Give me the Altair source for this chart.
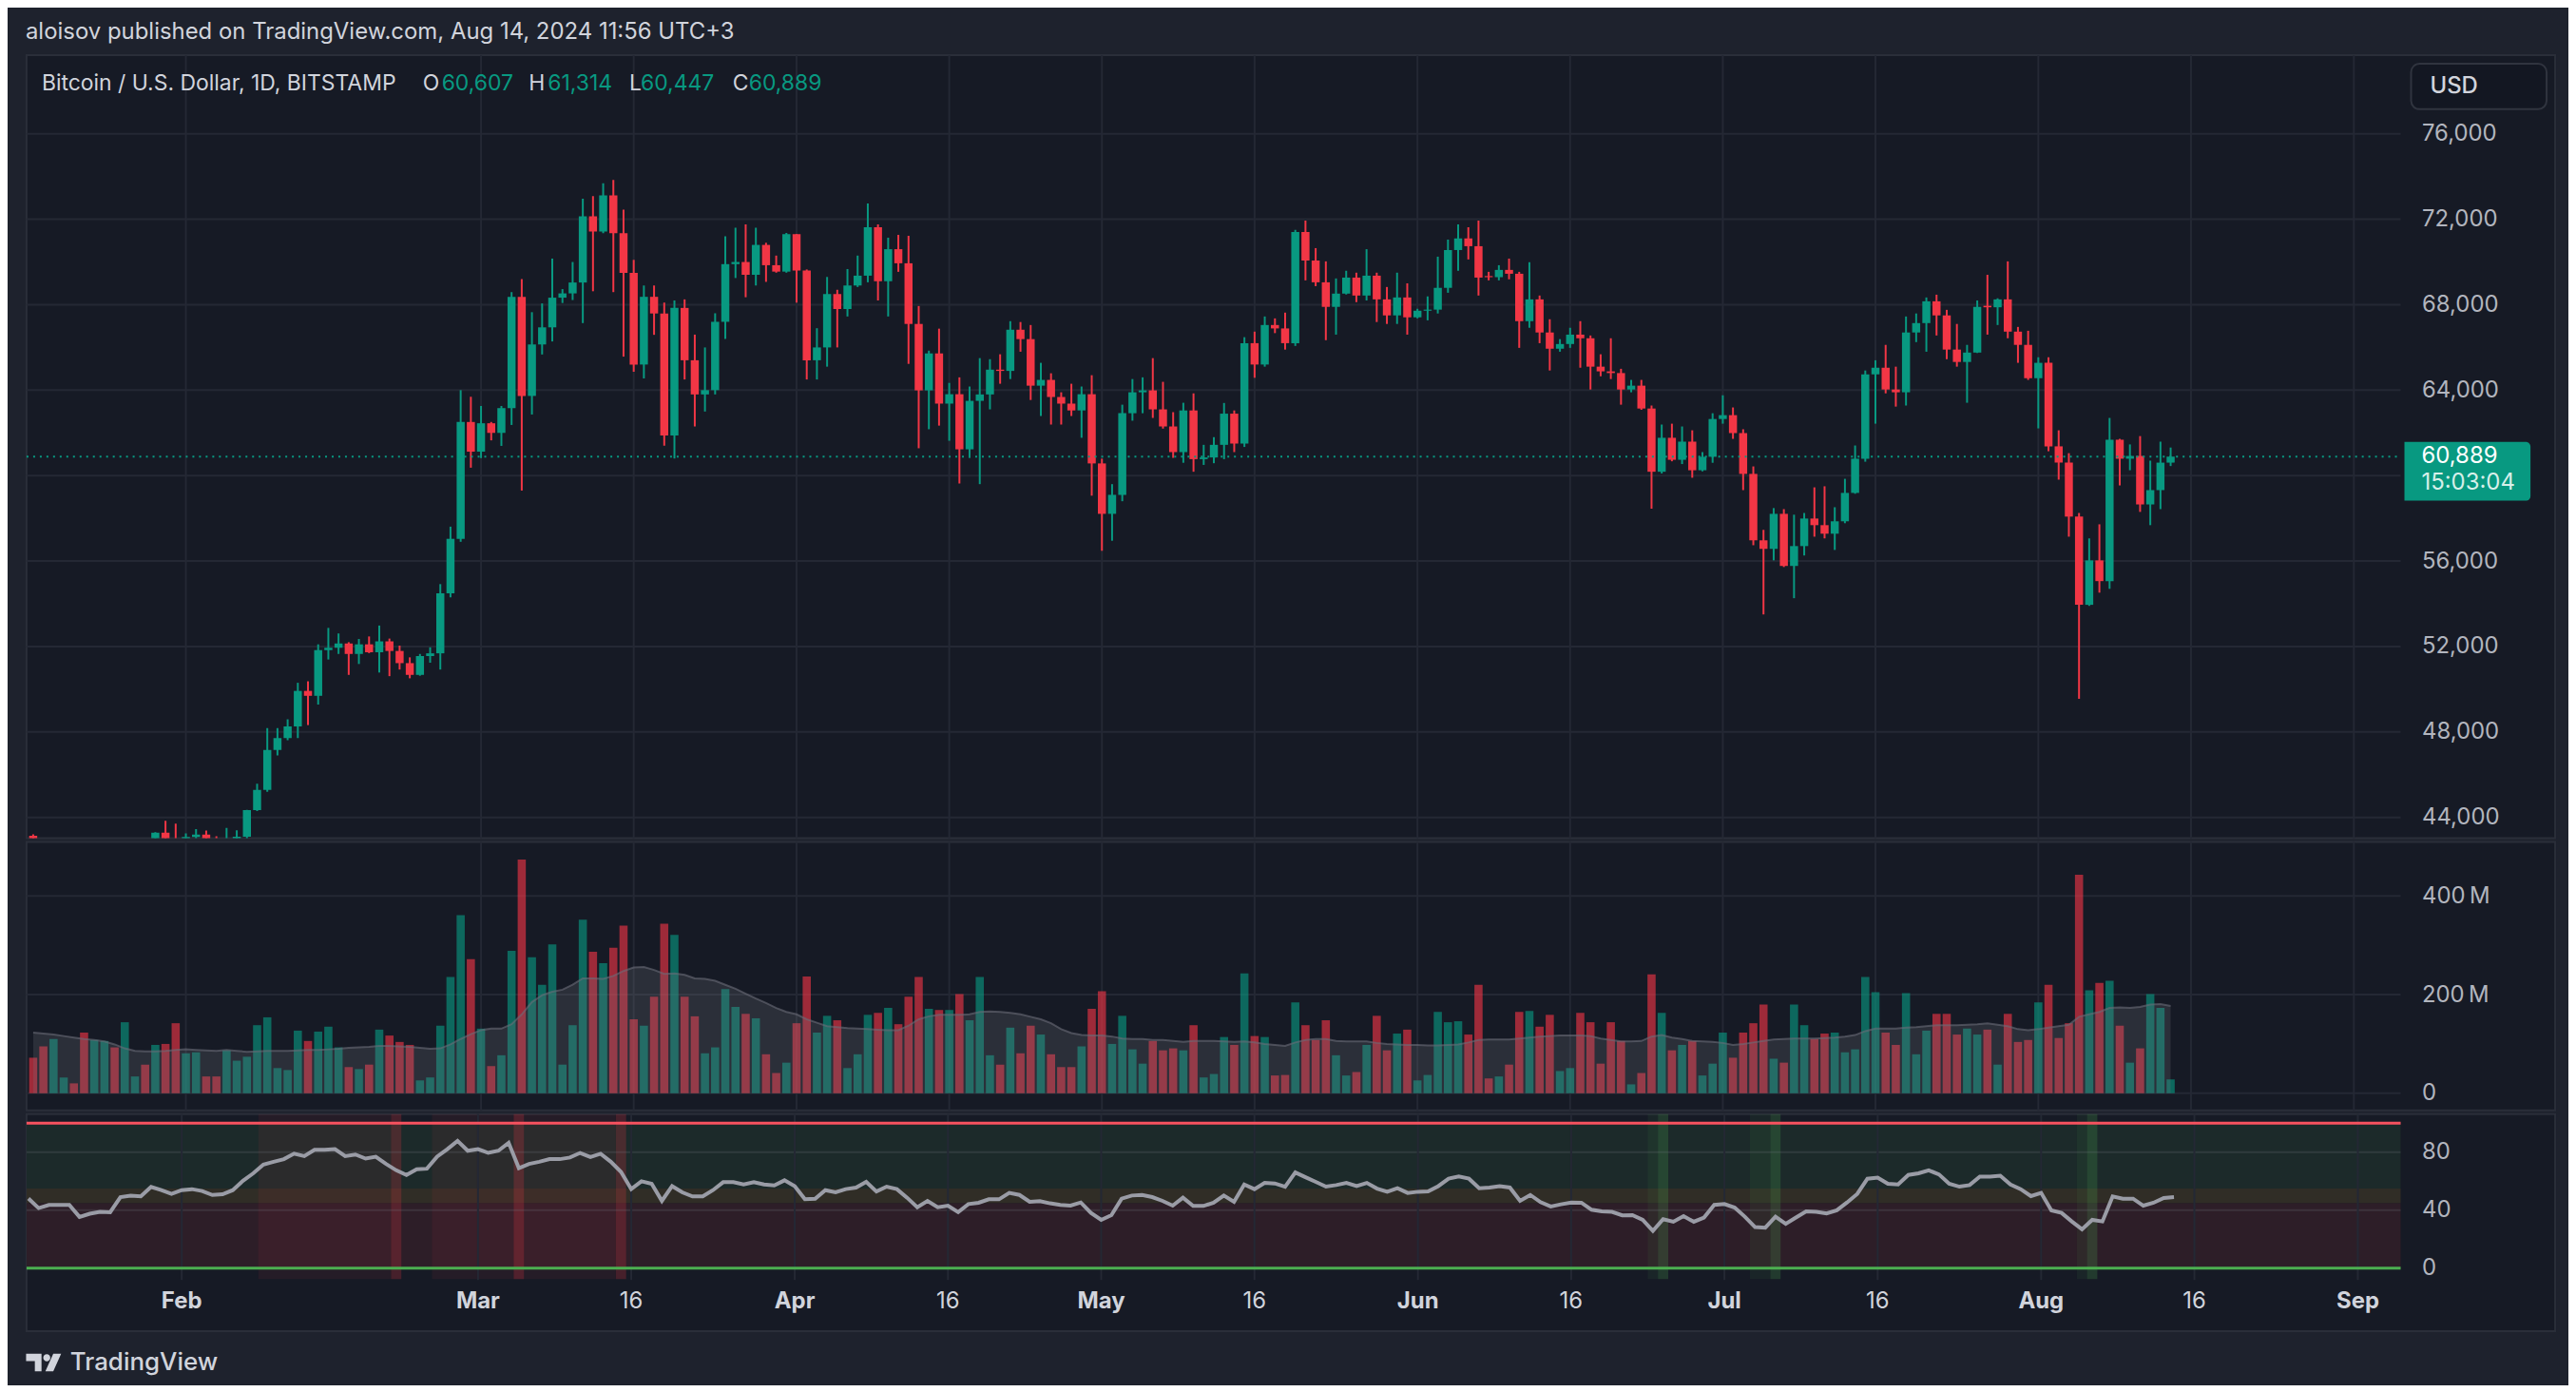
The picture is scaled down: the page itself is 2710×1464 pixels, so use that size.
import altair as alt
import pandas as pd

# ---------------- values ----------------
FIRST_DAY = "2024-01-17"

opens = [43140, 42740, 41270, 41620, 41660, 41580, 39510, 39850, 40080, 39930,
         41800, 42120, 42030, 43280, 42940, 42580, 43080, 43190, 43000, 42580,
         42690, 43090, 44340, 45290, 47160, 47710, 48260, 49920, 49690, 51830,
         51940, 52140, 51650, 52100, 51730, 52240, 51790, 51220, 50670, 51550,
         51680, 54490, 57040, 62510, 61120, 62450, 62000, 63160, 68370, 63730,
         66140, 66940, 68330, 68530, 69040, 72140, 71430, 73120, 71350, 69490,
         65200, 68370, 67590, 61880, 67850, 65400, 63800, 64000, 67200, 69900,
         70000, 69400, 70800, 69850, 69550, 71300, 69600, 65400, 66000, 68500,
         67800, 68900, 69360, 71630, 69100, 70600, 69940, 67100, 63990, 65720,
         63370, 63810, 61230, 63500, 63800, 64960, 64900, 66830, 66390, 64210,
         64480, 63680, 63370, 63050, 63810, 60570, 58210, 59100, 62920, 63900,
         63990, 63100, 62300, 61100, 63050, 60770, 60850, 61440, 62900, 61500,
         66200, 65200, 67050, 66890, 66200, 71410, 70070, 69050, 67900, 68520,
         69270, 68430, 69360, 68250, 67500, 68340, 67410, 67720, 67770, 68790,
         70560, 71100, 70740, 69340, 69290, 69630, 69450, 67230, 68250, 66700,
         65940, 66160, 66600, 66430, 65100, 64880, 64800, 64030, 64210, 63140,
         60180, 61770, 60740, 61590, 60250, 60880, 62650, 62830, 61990, 60080,
         56970, 56570, 58210, 55770, 56700, 57990, 57680, 57280, 57860, 59190,
         60790, 64740, 65050, 64030, 63900, 66700, 67140, 68160, 67500, 65900,
         65320, 65760, 67950, 67880, 68250, 66740, 66120, 64560, 65280, 61370,
         60610, 58080, 53950, 56030, 55060, 61680, 60790, 60920, 58650, 59320,
         60607]
highs = [43200, 42930, 42190, 41820, 41870, 41680, 40130, 40500, 40280, 42200,
         42200, 42840, 43300, 43840, 43700, 43250, 43450, 43380, 43120, 43500,
         43390, 44350, 45570, 48180, 48180, 48590, 50300, 50370, 52100, 52870,
         52610, 52200, 52350, 52470, 52980, 52370, 52040, 51490, 51650, 51960,
         54920, 57610, 64000, 63690, 63260, 62510, 63260, 68590, 69200, 67650,
         68060, 70160, 68730, 70000, 72960, 73080, 73690, 73840, 72450, 70100,
         68900, 68900, 68100, 68200, 68250, 66600, 66000, 67600, 71200, 71600,
         71760, 71600, 70900, 70300, 71360, 71300, 69650, 66900, 69300, 68700,
         69670, 70300, 72740, 71760, 71140, 71270, 71230, 67940, 65850, 66880,
         64340, 64600, 64170, 65500, 65450, 65680, 67230, 67190, 67050, 65280,
         64790, 63900, 64300, 64170, 64700, 60790, 59600, 63320, 64520, 64600,
         65500, 64390, 62970, 63410, 63850, 61440, 61800, 63400, 63050, 66480,
         66740, 67450, 67360, 67630, 71500, 71940, 70650, 70030, 69230, 69590,
         69500, 70600, 69500, 68830, 69500, 69000, 67810, 68390, 70250, 71050,
         71760, 71630, 71940, 69540, 69850, 70160, 69540, 69990, 68430, 67320,
         66390, 66920, 67230, 66560, 65680, 66430, 65000, 64480, 64480, 63280,
         62390, 62430, 62300, 62120, 61100, 62920, 63760, 63190, 62170, 60430,
         57460, 58480, 58430, 58170, 58250, 59450, 59500, 58520, 59850, 61410,
         64920, 65400, 66120, 65100, 67450, 67590, 68340, 68470, 67760, 67100,
         66120, 68200, 69400, 68300, 70030, 66960, 66780, 65540, 65540, 62120,
         61050, 58250, 57060, 57720, 62700, 61720, 61460, 61850, 60700, 61590,
         61314]
lows = [42200, 40680, 40280, 41420, 41500, 39450, 38500, 39480, 39500, 39820,
        41400, 41620, 41800, 42680, 42300, 41880, 42580, 42890, 42200, 42500,
        42580, 42780, 44300, 45200, 46900, 47610, 47710, 48320, 49280, 51390,
        51650, 50670, 51180, 51690, 50780, 50610, 50920, 50510, 50630, 51240,
        50920, 54300, 56900, 60370, 60820, 61650, 61390, 62370, 59300, 62860,
        65670, 66280, 68080, 68220, 67140, 68630, 71350, 68590, 65570, 64860,
        64550, 66590, 61400, 60800, 64500, 62300, 63000, 63800, 66400, 69250,
        68350, 68900, 69070, 69500, 69500, 68100, 64500, 64500, 65100, 66000,
        67450, 68830, 69050, 68200, 67450, 69540, 65230, 61280, 62170, 62340,
        61630, 59630, 60830, 59600, 63100, 64300, 64520, 65800, 63540, 62790,
        62390, 62390, 62790, 61770, 59060, 56480, 56950, 58800, 62570, 62920,
        62700, 62200, 60830, 60600, 60180, 60500, 60580, 60770, 61100, 61340,
        64580, 65100, 66670, 65900, 66070, 69140, 68870, 66340, 66600, 68480,
        68120, 68200, 67190, 67100, 67100, 66600, 67360, 67270, 67590, 68560,
        69590, 70120, 68430, 69140, 69140, 69190, 65980, 66920, 66200, 64920,
        65800, 65980, 65050, 64030, 64650, 64520, 63320, 63900, 63080, 58450,
        60100, 60670, 60540, 59900, 60200, 60600, 62430, 61720, 59320, 56740,
        53500, 56030, 55720, 54260, 56260, 57140, 57060, 56520, 57770, 59150,
        60650, 62430, 63850, 63230, 63280, 66250, 65800, 66560, 65450, 65100,
        63410, 65740, 66600, 67050, 66430, 65280, 64480, 62210, 61140, 59810,
        57140, 49550, 53900, 54520, 54700, 59540, 60250, 58300, 57680, 58430,
        60447]
closes = [42740, 41270, 41620, 41660, 41580, 39510, 39850, 40080, 39930, 41800,
          42120, 42030, 43280, 42940, 42580, 43080, 43190, 43000, 42580, 42690,
          43090, 44340, 45290, 47160, 47710, 48260, 49920, 49690, 51830, 51940,
          52140, 51650, 52100, 51730, 52240, 51790, 51220, 50670, 51550, 51680,
          54490, 57040, 62510, 61120, 62450, 62000, 63160, 68370, 63730, 66140,
          66940, 68330, 68530, 69040, 72140, 71430, 73120, 71350, 69490, 65200,
          68370, 67590, 61880, 67850, 65400, 63800, 64000, 67200, 69900, 70000,
          69400, 70800, 69850, 69550, 71300, 69600, 65400, 66000, 68500, 67800,
          68900, 69360, 71630, 69100, 70600, 69940, 67100, 63990, 65720, 63370,
          63810, 61230, 63500, 63800, 64960, 64900, 66830, 66390, 64210, 64480,
          63680, 63370, 63050, 63810, 60570, 58210, 59100, 62920, 63900, 63990,
          63100, 62300, 61100, 63050, 60770, 60850, 61440, 62900, 61500, 66200,
          65200, 67050, 66890, 66200, 71410, 70070, 69050, 67900, 68520, 69270,
          68430, 69360, 68250, 67500, 68340, 67410, 67720, 67770, 68790, 70560,
          71100, 70740, 69270, 69290, 69630, 69450, 67230, 68250, 66700, 65940,
          66160, 66600, 66430, 65100, 64880, 64800, 64030, 64210, 63140, 60180,
          61770, 60740, 61590, 60250, 60880, 62650, 62830, 61990, 60080, 56970,
          56570, 58210, 55770, 56700, 57990, 57680, 57280, 57860, 59190, 60790,
          64740, 65050, 64030, 63900, 66700, 67140, 68160, 67500, 65900, 65320,
          65760, 67900, 67880, 68250, 66740, 66120, 64560, 65280, 61370, 60610,
          58080, 53950, 56030, 55060, 61680, 60790, 60920, 58650, 59320, 60607,
          60889]

volume_m = [72, 95, 110, 32, 20, 123, 108, 106, 93, 144,
            34, 58, 98, 100, 142, 81, 83, 34, 34, 87,
            66, 74, 138, 154, 51, 47, 127, 106, 125, 135,
            93, 53, 49, 58, 129, 117, 104, 98, 26, 32,
            137, 236, 361, 272, 131, 55, 77, 289, 474, 276,
            220, 302, 58, 138, 352, 287, 264, 295, 340, 150,
            137, 196, 344, 321, 196, 156, 81, 93, 211, 175,
            161, 152, 79, 41, 62, 142, 237, 123, 157, 148,
            51, 79, 159, 163, 173, 140, 196, 236, 171, 169,
            169, 201, 148, 236, 77, 58, 133, 81, 137, 119,
            79, 53, 53, 95, 171, 207, 100, 157, 89, 60,
            106, 87, 91, 87, 138, 32, 39, 114, 98, 243,
            116, 114, 36, 37, 184, 138, 108, 148, 77, 36,
            43, 98, 157, 87, 121, 129, 26, 37, 165, 144,
            146, 119, 220, 30, 34, 58, 165, 167, 135, 159,
            45, 51, 163, 144, 60, 144, 106, 18, 41, 241,
            163, 87, 98, 106, 36, 60, 123, 72, 123, 142,
            180, 70, 62, 180, 138, 110, 121, 123, 83, 89,
            236, 205, 123, 98, 203, 79, 127, 161, 161, 119,
            131, 119, 129, 58, 161, 104, 108, 184, 220, 112,
            142, 443, 209, 224, 228, 137, 62, 91, 201, 173,
            28]
volume_ma_m = [123, 121, 119, 116, 113, 110, 108, 105, 99, 91,
               86, 85, 85, 86, 88, 89, 88, 87, 86, 88,
               86, 84, 85, 86, 86, 86, 87, 88, 88, 89,
               90, 92, 93, 94, 96, 96, 95, 94, 92, 90,
               91, 99, 110, 120, 128, 131, 131, 140, 160, 185,
               199, 206, 210, 220, 233, 233, 232, 238, 248, 255,
               256, 250, 242, 243, 240, 233, 232, 228, 220, 212,
               202, 192, 183, 173, 165, 160, 150, 143, 136, 134,
               132, 131, 130, 129, 128, 128, 137, 150, 156, 159,
               159, 159, 160, 165, 166, 165, 163, 160, 155, 150,
               142, 130, 122, 118, 117, 117, 115, 111, 110, 110,
               108, 108, 106, 104, 106, 106, 106, 105, 104, 105,
               103, 100, 98, 96, 103, 108, 110, 110, 106, 105,
               105, 105, 102, 100, 99, 98, 98, 97, 97, 98,
               99, 103, 108, 109, 109, 109, 111, 113, 115, 116,
               117, 117, 117, 116, 111, 108, 105, 105, 106, 115,
               118, 113, 110, 106, 105, 104, 102, 98, 100, 103,
               106, 109, 110, 111, 111, 111, 112, 113, 115, 118,
               126, 131, 131, 131, 133, 134, 136, 138, 138, 138,
               139, 140, 142, 139, 136, 130, 128, 130, 133, 136,
               139, 155, 160, 165, 173, 174, 173, 175, 180, 181,
               177]
rsi_values = [48, 41.4, 43.6, 43.6, 43.6, 35.3, 37.5, 38.8, 38.6, 49,
              50, 49.5, 56, 53.8, 51.2, 53.8, 54.5, 53.2, 50.5, 51,
              53.8, 60.3, 65.4, 71.5, 73.4, 75.2, 79, 77.3, 81.7, 81.7,
              82.1, 77.3, 78.4, 75.6, 76.9, 71.9, 67.5, 64.3, 68.2, 68.6,
              76.9, 82.1, 87.8, 81, 82.1, 79.5, 81, 86.5, 69, 71.9,
              73.4, 75.2, 75.2, 76.3, 79.5, 76.7, 78.9, 73.4, 66.4, 54.5,
              59.9, 58.2, 46.4, 56.6, 52.3, 49.5, 49.5, 53.8, 59.3, 59.3,
              57.7, 59.3, 57.7, 57.1, 60.6, 56.6, 47.5, 47.9, 53.8, 52.3,
              54.5, 55.6, 59.5, 52.9, 56.2, 54.5, 48.6, 42, 46.4, 42,
              43.1, 38.6, 44.2, 45.1, 47.5, 47.5, 51.9, 50.5, 45.8, 46.2,
              44.7, 43.6, 43.1, 45.3, 38.1, 33.3, 36.6, 47.9, 50.1, 50.5,
              49, 46.4, 43.1, 48.6, 42.9, 42.9, 45.1, 50.1, 45.8, 57.7,
              54.5, 58.8, 58.4, 56.2, 66, 62.7, 59.5, 56.2, 57.3, 58.8,
              56.6, 58.8, 54.9, 52.7, 55.1, 51.9, 52.7, 52.9, 56.6, 61.7,
              63.2, 61.7, 55.1, 55.6, 56.6, 55.6, 46.4, 50.5, 45.5, 42.5,
              44, 45.3, 45.1, 40.3, 39.2, 38.8, 36.4, 36.6, 33.3, 25.7,
              33.8, 32, 35.9, 32, 34.9, 43.6, 44.2, 41.8, 35.5, 28.3,
              27.9, 35.5, 30.5, 34.9, 39.2, 38.8, 37.7, 39.9, 45.3, 51.2,
              61.7, 62.5, 58.2, 57.7, 64.3, 65.4, 67.5, 64.7, 58.2, 56.2,
              57.3, 63.2, 63.2, 63.8, 57.7, 54.5, 49.7, 51.9, 39.9, 38.1,
              32.2, 26.8, 33.3, 32.2, 49.5, 47.9, 47.9, 43.1, 45.1, 48.4,
              49]

price_grid = [44000, 48000, 52000, 56000, 60000, 64000, 68000, 72000, 76000]
price_labels = [44000, 48000, 52000, 56000, 64000, 68000, 72000, 76000]  # 60,000 hidden by price tag
volume_ticks = [0, 200, 400]
rsi_ticks = [0, 40, 80]
rsi_zone_lo = [0, 45, 55]
rsi_zone_hi = [45, 55, 100]
rsi_limits = [100, 0]

time_dates = ["2024-02-01", "2024-03-01", "2024-03-16", "2024-04-01", "2024-04-16",
              "2024-05-01", "2024-05-16", "2024-06-01", "2024-06-16", "2024-07-01",
              "2024-07-16", "2024-08-01", "2024-08-16", "2024-09-01"]
time_labels = ["Feb", "Mar", "16", "Apr", "16", "May", "16", "Jun", "16", "Jul",
               "16", "Aug", "16", "Sep"]

overbought_first = ["2024-02-09", "2024-02-26"]
overbought_last = ["2024-02-21", "2024-03-14"]
oversold_first = ["2024-06-24", "2024-07-04", "2024-08-05"]
oversold_last = ["2024-06-24", "2024-07-05", "2024-08-05"]
sell_days = ["2024-02-22", "2024-03-05", "2024-03-15"]
buy_days = ["2024-06-25", "2024-07-06", "2024-08-06"]

header = "aloisov published on TradingView.com, Aug 14, 2024 11:56 UTC+3"
symbol = "Bitcoin / U.S. Dollar, 1D, BITSTAMP"
countdown = "15:03:04"

# ---------------- styling / layout ----------------
PANE = "#161a25"
CHROME = "#1e222d"
GRID = "#242834"
UP = "#089981"
DOWN = "#f23645"
TEXT = "#d1d4dc"
AXIS_TXT = "#b2b5be"
FONT = "Inter"

W = 2668          # pane width incl. price-scale column
PLOT_W = 2505     # drawing area width
H_PRICE, H_VOL, H_RSI = 826, 283, 229
PX_DAY = 10.78

dates = pd.date_range(FIRST_DAY, periods=len(closes), freq="D").strftime("%Y-%m-%d")
df = pd.DataFrame({"date": dates, "open": opens, "high": highs, "low": lows,
                   "close": closes, "vol": volume_m, "ma": volume_ma_m, "rsi": rsi_values})
df["dir"] = ["up" if c >= o else "down" for o, c in zip(opens, closes)]

t_start = pd.Timestamp(FIRST_DAY, tz="UTC") - pd.Timedelta(days=2 / PX_DAY)
t_end = t_start + pd.Timedelta(days=W / PX_DAY)
xsc = alt.Scale(type="utc", domain=[int(t_start.value // 10**6), int(t_end.value // 10**6)])
X = alt.X("date:T", scale=xsc, axis=None)
COLOR = alt.Color("dir:N", scale=alt.Scale(domain=["up", "down"], range=[UP, DOWN]), legend=None)

vlines = pd.DataFrame({"date": time_dates, "label": time_labels})


def right_axis(values, expr):
    return alt.Axis(orient="right", values=values, labelExpr=expr, grid=False, ticks=False,
                    domain=False, labelFont=FONT, labelFontSize=24, labelColor=AXIS_TXT,
                    labelPadding=0, offset=-141, title=None, labelAlign="left",
                    labelBaseline="middle", labelOverlap=False, labelFlush=False)


def txt(**kw):
    base = dict(font=FONT, fontSize=24, align="left", baseline="middle", color=TEXT)
    base.update(kw)
    return base


# ---------------- price pane ----------------
ysc_p = alt.Scale(domain=[43024, 79684], nice=False, zero=False)
ax_p = right_axis(price_labels, "format(datum.value, ',')")


def YP(field):
    return alt.Y(field, scale=ysc_p, axis=ax_p, title=None)


grid_p = alt.Chart(pd.DataFrame({"price": price_grid})).mark_rule(color=GRID, strokeWidth=2).encode(
    y=YP("price:Q"), x=alt.value(0), x2=alt.value(PLOT_W))
vgrid_p = alt.Chart(vlines).mark_rule(color=GRID, strokeWidth=2).encode(x=X)
wicks = alt.Chart(df).mark_rule(strokeWidth=2, clip=True).encode(
    x=X, y=YP("low:Q"), y2="high:Q", color=COLOR)
bodies = alt.Chart(df).mark_bar(size=8.5, clip=True).encode(
    x=X, y=YP("open:Q"), y2="close:Q", color=COLOR)

last_df = pd.DataFrame({"price": [closes[-1]], "label": [f"{closes[-1]:,}"], "timer": [countdown]})
last_line = alt.Chart(last_df).mark_rule(color=UP, strokeWidth=2, strokeDash=[2, 5]).encode(
    y=YP("price:Q"), x=alt.value(0), x2=alt.value(PLOT_W))
last_box = alt.Chart(last_df).mark_rect(color=UP, cornerRadiusTopRight=5, cornerRadiusBottomRight=5).encode(
    x=alt.value(2509), x2=alt.value(2642), y=alt.value(408), y2=alt.value(470))
last_txt = alt.Chart(last_df).mark_text(**txt(color="#ffffff")).encode(
    x=alt.value(2527), y=YP("price:Q"), text="label:N")
timer_txt = alt.Chart(last_df).mark_text(**txt(color="#d6efe9", dy=28)).encode(
    x=alt.value(2527), y=YP("price:Q"), text="timer:N")

one = pd.DataFrame({"t": ["USD"]})
usd_box = alt.Chart(one).mark_rect(fill="#131722", stroke="#30343f", strokeWidth=2, cornerRadius=9).encode(
    x=alt.value(2516), x2=alt.value(2659), y=alt.value(9), y2=alt.value(57))
usd_txt = alt.Chart(one).mark_text(**txt(fontWeight=500)).encode(
    x=alt.value(2536), y=alt.value(33), text="t:N")

head_txt = alt.Chart(pd.DataFrame({"t": [header]})).mark_text(**txt()).encode(
    x=alt.value(-1), y=alt.value(-24), text="t:N")

legend_texts = [symbol, "O", f"{opens[-1]:,}", "H", f"{highs[-1]:,}", "L", f"{lows[-1]:,}",
                "C", f"{closes[-1]:,}"]
legend_colors = [TEXT, TEXT, UP, TEXT, UP, TEXT, UP, TEXT, UP]
legend_x = [16, 418, 438, 530, 550, 636, 648, 745, 762]
legend_layers = [
    alt.Chart(pd.DataFrame({"t": [t]})).mark_text(**txt(color=c, fontSize=23)).encode(
        x=alt.value(px), y=alt.value(30), text="t:N")
    for t, c, px in zip(legend_texts, legend_colors, legend_x)
]

price_chart = alt.layer(grid_p, vgrid_p, wicks, bodies, last_line, last_box, last_txt, timer_txt,
                        usd_box, usd_txt, head_txt, *legend_layers).properties(width=W, height=H_PRICE)

# ---------------- volume pane ----------------
ysc_v = alt.Scale(domain=[-34.6, 509.6], nice=False, zero=False)
ax_v = right_axis(volume_ticks, "datum.value == 0 ? '0' : datum.value + '\u2009M'")


def YV(field):
    return alt.Y(field, scale=ysc_v, axis=ax_v, title=None)


grid_v = alt.Chart(pd.DataFrame({"v": volume_ticks})).mark_rule(color=GRID, strokeWidth=2).encode(
    y=YV("v:Q"), x=alt.value(0), x2=alt.value(PLOT_W))
vgrid_v = alt.Chart(vlines).mark_rule(color=GRID, strokeWidth=2).encode(x=X)
vol_bars = alt.Chart(df).mark_bar(size=8.6, opacity=0.62).encode(
    x=X, y=YV("vol:Q"), color=COLOR)
ma_area = alt.Chart(df).mark_area(color="#787b86", opacity=0.22).encode(
    x=X, y=YV("ma:Q"))
ma_line = alt.Chart(df).mark_line(color="#6a6d78", strokeWidth=2, opacity=0.6).encode(
    x=X, y=YV("ma:Q"))
vol_chart = alt.layer(grid_v, vgrid_v, vol_bars, ma_area, ma_line).properties(width=W, height=H_VOL)

# ---------------- RSI pane ----------------
ysc_r = alt.Scale(domain=[-43.5, 106.3], nice=False, zero=False)
ax_r = right_axis(rsi_ticks, "datum.value + ''")


def YR(field):
    return alt.Y(field, scale=ysc_r, axis=ax_r, title=None)


zones_df = pd.DataFrame({"lo": rsi_zone_lo, "hi": rsi_zone_hi,
                         "fill": ["#2d1e28", "#302d26", "#1c2a2a"]})
zones = alt.Chart(zones_df).mark_rect().encode(
    y=YR("lo:Q"), y2="hi:Q", x=alt.value(0), x2=alt.value(PLOT_W),
    fill=alt.Fill("fill:N", scale=None))


def span_df(first, last, fill):
    return pd.DataFrame({
        "b0": [(pd.Timestamp(f) - pd.Timedelta(hours=12)).strftime("%Y-%m-%dT%H:%M:%SZ") for f in first],
        "b1": [(pd.Timestamp(l) + pd.Timedelta(hours=12)).strftime("%Y-%m-%dT%H:%M:%SZ") for l in last],
        "fill": fill})


bands_df = pd.concat([
    span_df(overbought_first, overbought_last, "rgba(242,54,69,0.07)"),
    span_df(oversold_first, oversold_last, "rgba(76,175,80,0.08)"),
    span_df(sell_days, sell_days, "rgba(242,54,69,0.22)"),
    span_df(buy_days, buy_days, "rgba(76,175,80,0.22)"),
], ignore_index=True)
bands = alt.Chart(bands_df).mark_rect().encode(
    x=alt.X("b0:T", scale=xsc, axis=None), x2="b1:T",
    y=alt.value(0), y2=alt.value(174), fill=alt.Fill("fill:N", scale=None))
grid_r = alt.Chart(pd.DataFrame({"v": [40, 80]})).mark_rule(color="#787b86", opacity=0.22, strokeWidth=2).encode(
    y=YR("v:Q"), x=alt.value(0), x2=alt.value(PLOT_W))
vgrid_r = alt.Chart(vlines).mark_rule(color=GRID, strokeWidth=2).encode(
    x=X, y=alt.value(0), y2=alt.value(175))
limits = alt.Chart(pd.DataFrame({"v": rsi_limits, "c": ["#f7525f", "#4caf50"]})).mark_rule(strokeWidth=3).encode(
    y=YR("v:Q"), x=alt.value(0), x2=alt.value(PLOT_W), color=alt.Color("c:N", scale=None))
rsi_line = alt.Chart(df).mark_line(color="#9a9ca6", strokeWidth=4).encode(
    x=X, y=YR("rsi:Q"))
month_lbl = alt.Chart(vlines).transform_filter("datum.label != '16'").mark_text(
    **txt(align="center", fontWeight="bold")).encode(x=X, y=alt.value(198), text="label:N")
day_lbl = alt.Chart(vlines).transform_filter("datum.label == '16'").mark_text(
    **txt(align="center")).encode(x=X, y=alt.value(198), text="label:N")

logo_path = ("M-1,-0.5 H-0.12 V0.5 H-0.5 V-0.08 H-1 Z "
             "M-0.02,-0.27 A0.2,0.2 0 1 0 0.38,-0.27 A0.2,0.2 0 1 0 -0.02,-0.27 Z "
             "M0.1,0.5 L0.55,-0.5 H1 L0.55,0.5 Z")
logo_df = pd.DataFrame({"t": ["TradingView"]})
logo_icon = alt.Chart(logo_df).mark_point(shape=logo_path, filled=True, size=1369, color=TEXT, opacity=1).encode(
    x=alt.value(18), y=alt.value(262))
logo_txt = alt.Chart(logo_df).mark_text(**txt(fontSize=26, fontWeight=500)).encode(
    x=alt.value(46), y=alt.value(262), text="t:N")

rsi_chart = alt.layer(zones, bands, grid_r, vgrid_r, limits, rsi_line, month_lbl, day_lbl,
                      logo_icon, logo_txt).properties(width=W, height=H_RSI)

chart = alt.vconcat(price_chart, vol_chart, rsi_chart, spacing=0).properties(
    background=CHROME,
    padding={"left": 13, "top": 11, "right": 13, "bottom": 8},
).configure_view(fill=PANE, stroke="#2a2e39", strokeWidth=2)

chart.save("out.html", embed_options={"renderer": "svg", "actions": False})
